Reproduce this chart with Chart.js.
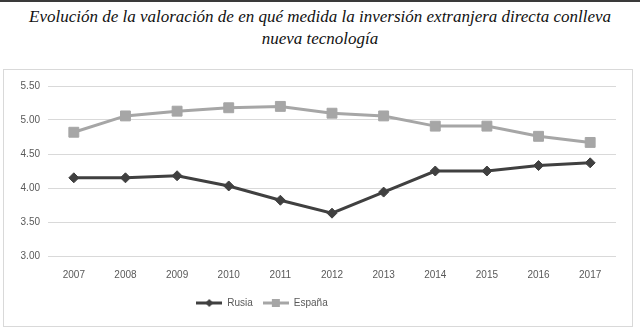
<!DOCTYPE html>
<html>
<head>
<meta charset="utf-8">
<script src="https://cdn.jsdelivr.net/npm/chart.js@4"></script>
<style>
  html, body { margin: 0; padding: 0; background: #fff; }
  body { width: 640px; height: 329px; position: relative; overflow: hidden; }
  #topline { position: absolute; left: 0; top: 0; width: 640px; height: 2px; background: #3a3a3a; }
  #title {
    position: absolute; left: 0; top: 6px; width: 640px; text-align: center;
    font-family: "Liberation Serif", serif; font-style: italic; font-size: 17px;
    line-height: 22px; color: #111;
  }
  #box {
    position: absolute; left: 3px; top: 69px; width: 628px; height: 256px;
    border: 1px solid #d9d9d9;
  }
</style>
</head>
<body>
<div id="topline"></div>
<div id="title">Evolución de la valoración de en qué medida la inversión extranjera directa conlleva<br>nueva tecnología</div>
<div id="box"><canvas id="chart" width="628" height="256"></canvas></div>
<script>
// ===== データ =====
var years  = ["2007", "2008", "2009", "2010", "2011", "2012", "2013", "2014", "2015", "2016", "2017"];
var rusia  = [4.15, 4.15, 4.18, 4.03, 3.82, 3.63, 3.94, 4.25, 4.25, 4.33, 4.37];
var espana = [4.82, 5.06, 5.13, 5.18, 5.20, 5.10, 5.06, 4.91, 4.91, 4.76, 4.67];
var yMin = 3, yMax = 5.5, yStep = 0.5;

var cRusia = "#404040";
var cEspana = "#a6a6a6";

// legend icon: line + marker
function legendIcon(color, shape) {
  var c = document.createElement("canvas");
  c.width = 26; c.height = 10;
  var g = c.getContext("2d");
  g.strokeStyle = color; g.fillStyle = color; g.lineWidth = 3;
  g.beginPath(); g.moveTo(0, 5); g.lineTo(26, 5); g.stroke();
  g.beginPath();
  if (shape === "diamond") {
    g.moveTo(13, 1); g.lineTo(17, 5); g.lineTo(13, 9); g.lineTo(9, 5);
  } else {
    g.rect(9, 1, 8, 8);
  }
  g.closePath(); g.fill();
  return c;
}

var legendShift = {
  id: "legendShift",
  afterLayout: function (chart) {
    if (chart.legend) chart.legend.right -= 96;
  }
};

Chart.defaults.font.family = '"Liberation Sans", sans-serif';
Chart.defaults.font.size = 10;
Chart.defaults.color = "#595959";

new Chart(document.getElementById("chart"), {
  type: "line",
  data: {
    labels: years,
    datasets: [
      {
        label: "Rusia",
        data: rusia,
        borderColor: cRusia, backgroundColor: cRusia,
        borderWidth: 3, pointStyle: "rectRot", pointRadius: 5,
        pointBackgroundColor: cRusia, pointBorderColor: cRusia, pointBorderWidth: 1,
        tension: 0,
      },
      {
        label: "España",
        data: espana,
        borderColor: cEspana, backgroundColor: cEspana,
        borderWidth: 3, pointStyle: "rect", pointRadius: 7,
        pointBackgroundColor: cEspana, pointBorderColor: cEspana, pointBorderWidth: 1,
        tension: 0,
      },
    ],
  },
  options: {
    responsive: false, animation: false,
    layout: { padding: { top: 16, right: 16, left: 0, bottom: 8 } },
    plugins: {
      tooltip: { enabled: false },
      legend: {
        position: "bottom",
        labels: {
          usePointStyle: true,
          pointStyleWidth: 26,
          padding: 10,
          generateLabels: function (chart) {
            return chart.data.datasets.map(function (ds, i) {
              return {
                text: ds.label,
                pointStyle: legendIcon(ds.borderColor, i === 0 ? "diamond" : "square"),
                fillStyle: ds.borderColor, strokeStyle: ds.borderColor,
                lineWidth: 0, hidden: false, datasetIndex: i,
                fontColor: "#595959",
              };
            });
          },
        },
      },
    },
    scales: {
      x: {
        offset: true,
        grid: { display: false, drawTicks: false },
        border: { display: false },
        ticks: { padding: 13, maxRotation: 0 },
        afterFit: function (s) { s.height = 32; },
      },
      y: {
        min: yMin, max: yMax,
        grid: { color: "#d9d9d9", drawTicks: false, lineWidth: 1 },
        border: { display: false },
        ticks: {
          stepSize: yStep, padding: 8,
          callback: function (v) { return v.toFixed(2); },
        },
        afterFit: function (s) { s.width = 44; },
      },
    },
  },
  plugins: [legendShift],
});
</script>
</body>
</html>
